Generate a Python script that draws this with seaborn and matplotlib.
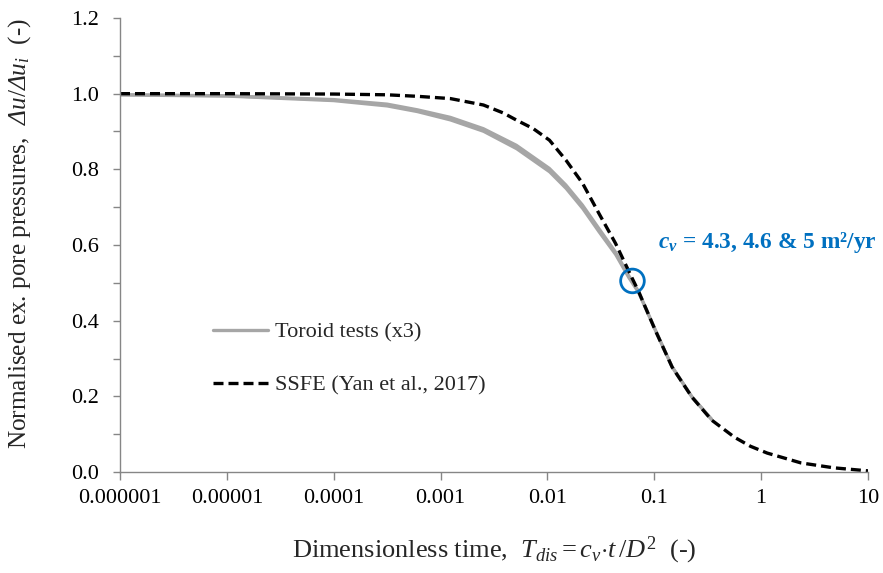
import numpy as np
import pandas as pd
import matplotlib
matplotlib.use("Agg")
import matplotlib.pyplot as plt
import matplotlib.ticker as mticker
import seaborn as sns

# ---------------- data ----------------
ssfe_T = [1e-6, 1e-5, 1e-4, 3.16e-4, 6.07e-4, 1.236e-3, 2.52e-3, 3.86e-3, 5.14e-3,
          7.33e-3, 0.01045, 0.01493, 0.02133, 0.0304, 0.04345, 0.0621, 0.0711,
          0.102, 0.147, 0.225, 0.345, 0.562, 0.794, 1.14, 2.36, 4.79, 10.0]
ssfe_U = [1.000, 1.000, 0.999, 0.997, 0.993, 0.987, 0.970, 0.949, 0.930,
          0.908, 0.877, 0.824, 0.763, 0.683, 0.604, 0.512, 0.478,
          0.375, 0.277, 0.198, 0.137, 0.092, 0.068, 0.050, 0.024, 0.011, 0.003]

toroid_T = [1e-6, 1e-5, 1e-4, 3.16e-4, 6.07e-4, 1.236e-3, 2.52e-3, 5.14e-3,
            0.01045, 0.01493, 0.02133, 0.0304, 0.04345, 0.0577, 0.0711, 0.102,
            0.147, 0.225, 0.345]
toroid_U1 = [0.998, 0.995, 0.985, 0.973, 0.958, 0.938, 0.908, 0.864, 0.803,
             0.759, 0.706, 0.644, 0.582, 0.520, 0.479, 0.378, 0.279, 0.200, 0.140]
toroid_U2 = [0.997, 0.994, 0.983, 0.970, 0.955, 0.934, 0.904, 0.859, 0.798,
             0.754, 0.701, 0.639, 0.578, 0.516, 0.476, 0.376, 0.278, 0.199, 0.139]
toroid_U3 = [0.996, 0.993, 0.981, 0.967, 0.952, 0.930, 0.900, 0.854, 0.793,
             0.749, 0.696, 0.634, 0.574, 0.513, 0.474, 0.374, 0.276, 0.197, 0.137]

marker_T = [0.0625]
marker_U = [0.505]

x_tick_vals = [1e-6, 1e-5, 1e-4, 1e-3, 1e-2, 1e-1, 1, 10]
x_tick_labels = ["0.000001", "0.00001", "0.0001", "0.001", "0.01", "0.1", "1", "10"]
y_tick_vals = [0.0, 0.2, 0.4, 0.6, 0.8, 1.0, 1.2]
y_tick_labels = ["0.0", "0.2", "0.4", "0.6", "0.8", "1.0", "1.2"]

# ---------------- style ----------------
sns.set_theme(style="ticks")
plt.rcParams["font.family"] = ["Liberation Serif", "DejaVu Serif"]
plt.rcParams["mathtext.fontset"] = "custom"
plt.rcParams["mathtext.rm"] = "Liberation Serif"
plt.rcParams["mathtext.it"] = "Liberation Serif:italic"
plt.rcParams["mathtext.sf"] = "Liberation Serif:italic"   # used for italic Greek capitals
plt.rcParams["mathtext.bf"] = "Liberation Serif:bold"
plt.rcParams["mathtext.bfit"] = "Liberation Serif:italic:bold"

grey = "#A6A6A6"
spine_c = "#868686"
blue = "#0070C0"

fig = plt.figure(figsize=(8.83, 5.73), dpi=100)
ax = fig.add_axes([120 / 883, 1 - 472 / 573, (868 - 120) / 883, (472 - 18) / 573])

toroid_df = pd.DataFrame({
    "T": toroid_T * 3,
    "U": toroid_U1 + toroid_U2 + toroid_U3,
    "test": ["1"] * len(toroid_T) + ["2"] * len(toroid_T) + ["3"] * len(toroid_T),
})
for i, (name, grp) in enumerate(toroid_df.groupby("test")):
    sns.lineplot(data=grp, x="T", y="U", ax=ax, color=grey, lw=2.0,
                 label="Toroid tests (x3)" if i == 0 else None, estimator=None)

ssfe_df = pd.DataFrame({"T": ssfe_T, "U": ssfe_U})
sns.lineplot(data=ssfe_df, x="T", y="U", ax=ax, color="black", lw=2.4,
             label="SSFE (Yan et al., 2017)", estimator=None)
ax.lines[-1].set_dashes((3.0, 1.5))

ax.scatter(marker_T, marker_U, s=290, facecolors="none", edgecolors=blue,
           linewidths=2.0, zorder=5)

ax.text(0.108, 0.607, r"$\mathbfit{c_v}$ = 4.3, 4.6 & 5 m²/yr", color=blue,
        fontsize=16.8, fontweight="bold", va="center", ha="left")

# ---------------- axes ----------------
ax.set_xscale("log")
ax.set_xlim(1e-6, 10)
ax.set_ylim(0, 1.2)
ax.set_xticks(x_tick_vals)
ax.set_xticklabels(x_tick_labels)
ax.xaxis.set_minor_locator(mticker.NullLocator())
ax.set_yticks(y_tick_vals)
ax.set_yticklabels(y_tick_labels)
ax.yaxis.set_minor_locator(mticker.MultipleLocator(0.1))

for s in ["top", "right"]:
    ax.spines[s].set_visible(False)
for s in ["left", "bottom"]:
    ax.spines[s].set_color(spine_c)
    ax.spines[s].set_linewidth(1.0)

ax.tick_params(axis="both", which="both", direction="out", color=spine_c,
               width=1.0, labelsize=16, labelcolor="black")
ax.tick_params(axis="y", which="major", length=5, pad=10)
ax.tick_params(axis="y", which="minor", length=5)
ax.tick_params(axis="x", which="major", length=6, pad=6)

ax.set_xlabel(r"Dimensionless time,  $T_{dis} = c_v{\cdot}t\,/D^2$  (-)",
              fontsize=19)
ax.xaxis.set_label_coords(0.5, -0.137)
ax.set_ylabel(r"Normalised ex. pore pressures,  "
              r"$\mathsf{\Delta}\mathit{u}/\mathsf{\Delta}\mathit{u_i}$  (-)",
              fontsize=18.2)
ax.yaxis.set_label_coords(-0.116, 0.526)

leg = ax.legend(loc="upper left", bbox_to_anchor=(0.112, 0.35), frameon=False,
                fontsize=16, handlelength=2.5, handletextpad=0.32,
                labelspacing=1.45, borderaxespad=0)
leg.get_lines()[0].set_linewidth(2.4)

fig.savefig("out.png", dpi=100)
